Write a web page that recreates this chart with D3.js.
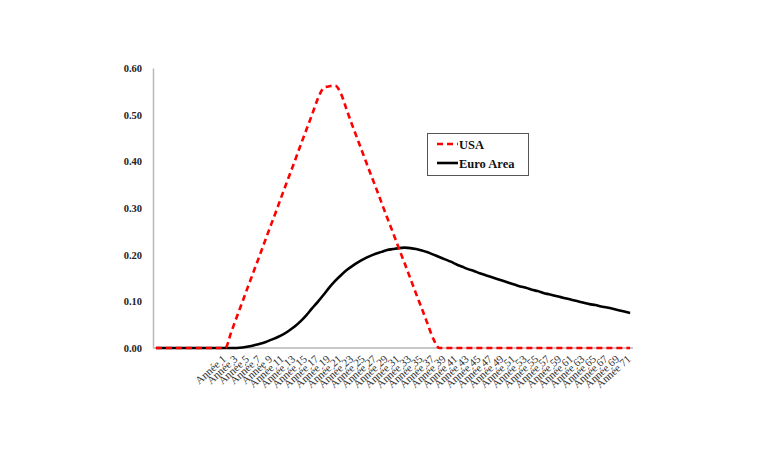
<!DOCTYPE html>
<html>
<head>
<meta charset="utf-8">
<script src="https://cdn.jsdelivr.net/npm/d3@7/dist/d3.min.js"></script>
<style>
  html, body { margin: 0; padding: 0; background: #fff; }
  svg { display: block; }
</style>
</head>
<body>
<svg id="chart" width="768" height="460"></svg>
<script>
// ---- data ----
// 12 unlabeled leading periods, then Année 1 .. Année 71
const leadingBlanks = ["", "", "", "", "", "", "", "", "", "", "", ""];
const yearLabels = [];
for (let n = 1; n <= 71; n++) yearLabels.push("Année " + n);
const categories = leadingBlanks.concat(yearLabels);

const usaValues = [
  0, 0, 0, 0, 0, 0, 0, 0, 0, 0, 0, 0,
  0.000, 0.033, 0.067, 0.100, 0.134, 0.167, 0.200, 0.234, 0.267, 0.300,
  0.334, 0.367, 0.400, 0.434, 0.467, 0.500, 0.534, 0.557, 0.561, 0.562,
  0.545, 0.510, 0.476, 0.443, 0.410, 0.377, 0.345, 0.312, 0.279, 0.247,
  0.214, 0.182, 0.149, 0.116, 0.084, 0.051, 0.019, 0.000, 0, 0,
  0, 0, 0, 0, 0, 0, 0, 0, 0, 0,
  0, 0, 0, 0, 0, 0, 0, 0, 0, 0,
  0, 0, 0, 0, 0, 0, 0, 0, 0, 0,
  0
];

const euroValues = [
  0, 0, 0, 0, 0, 0, 0, 0, 0, 0, 0, 0,
  0.000, 0.000, 0.000, 0.001, 0.003, 0.006, 0.009, 0.013, 0.018, 0.023,
  0.029, 0.037, 0.046, 0.057, 0.070, 0.085, 0.099, 0.114, 0.130, 0.144,
  0.156, 0.167, 0.176, 0.184, 0.191, 0.197, 0.202, 0.206, 0.210, 0.212,
  0.214, 0.215, 0.214, 0.212, 0.209, 0.205, 0.200, 0.195, 0.190, 0.185,
  0.179, 0.174, 0.169, 0.165, 0.160, 0.156, 0.152, 0.148, 0.144, 0.140,
  0.136, 0.132, 0.129, 0.125, 0.122, 0.118, 0.115, 0.112, 0.109, 0.106,
  0.103, 0.100, 0.097, 0.094, 0.092, 0.089, 0.087, 0.084, 0.081, 0.078,
  0.075
];

const yTicks = [0, 0.1, 0.2, 0.3, 0.4, 0.5, 0.6];
const seriesNames = ["USA", "Euro Area"];

// ---- chart ----
const svg = d3.select("#chart");
const plotLeft = 153, plotRight = 633, plotTop = 68, plotBottom = 348;

const x = d3.scalePoint()
  .domain(d3.range(categories.length))
  .range([plotLeft, plotRight])
  .padding(0.5);

const y = d3.scaleLinear().domain([0, 0.6]).range([plotBottom, plotTop]);

// y axis
const yAxis = d3.axisLeft(y).tickValues(yTicks).tickFormat(d3.format(".2f")).tickSize(0).tickPadding(11);
const yg = svg.append("g").attr("transform", `translate(${plotLeft},0)`).call(yAxis);
yg.select(".domain").attr("stroke", "#b8b8b8").attr("stroke-width", 1.5);
yg.selectAll("text")
  .attr("font-family", "'Liberation Serif', 'Times New Roman', serif")
  .attr("font-weight", "bold")
  .attr("font-size", 10.5)
  .attr("fill", "#222");

// x axis
const xAxis = d3.axisBottom(x)
  .tickValues(d3.range(categories.length).filter(i => i % 2 === 0 && categories[i] !== ""))
  .tickFormat(i => categories[i])
  .tickSize(0)
  .tickSizeOuter(0);
const xg = svg.append("g").attr("transform", `translate(0,${plotBottom})`).call(xAxis);
xg.select(".domain").attr("d", `M${plotLeft},0H${plotRight}`).attr("stroke", "#c8c8c8").attr("stroke-width", 2);
xg.selectAll("text")
  .attr("font-family", "'Liberation Serif', 'Times New Roman', serif")
  .attr("font-size", 11)
  .attr("fill", "#333")
  .attr("text-anchor", "end")
  .attr("dy", null)
  .attr("y", 0)
  .attr("transform", "translate(1,12) rotate(-42)");

// lines
const line = d3.line()
  .x((d, i) => x(i))
  .y(d => y(d))
  .curve(d3.curveMonotoneX);

svg.append("path")
  .datum(euroValues)
  .attr("fill", "none")
  .attr("stroke", "#000")
  .attr("stroke-width", 2.6)
  .attr("d", line);

svg.append("path")
  .datum(usaValues)
  .attr("fill", "none")
  .attr("stroke", "#ff0000")
  .attr("stroke-width", 2.6)
  .attr("stroke-dasharray", "6,4")
  .attr("d", line);

// legend
const lg = svg.append("g");
lg.append("rect")
  .attr("x", 427.5).attr("y", 133.5).attr("width", 101).attr("height", 42)
  .attr("fill", "#fff").attr("stroke", "#555").attr("stroke-width", 1);
const legendItems = [
  { name: seriesNames[0], color: "#ff0000", dash: "6,4", yy: 144 },
  { name: seriesNames[1], color: "#000", dash: null, yy: 163 }
];
legendItems.forEach(it => {
  lg.append("line")
    .attr("x1", 437).attr("x2", 458).attr("y1", it.yy).attr("y2", it.yy)
    .attr("stroke", it.color).attr("stroke-width", 2.6)
    .attr("stroke-dasharray", it.dash);
  lg.append("text")
    .attr("x", 459).attr("y", it.yy + 4.5)
    .attr("font-family", "'Liberation Serif', 'Times New Roman', serif")
    .attr("font-weight", "bold")
    .attr("font-size", 12.5)
    .attr("fill", "#111")
    .text(it.name);
});
</script>
</body>
</html>
